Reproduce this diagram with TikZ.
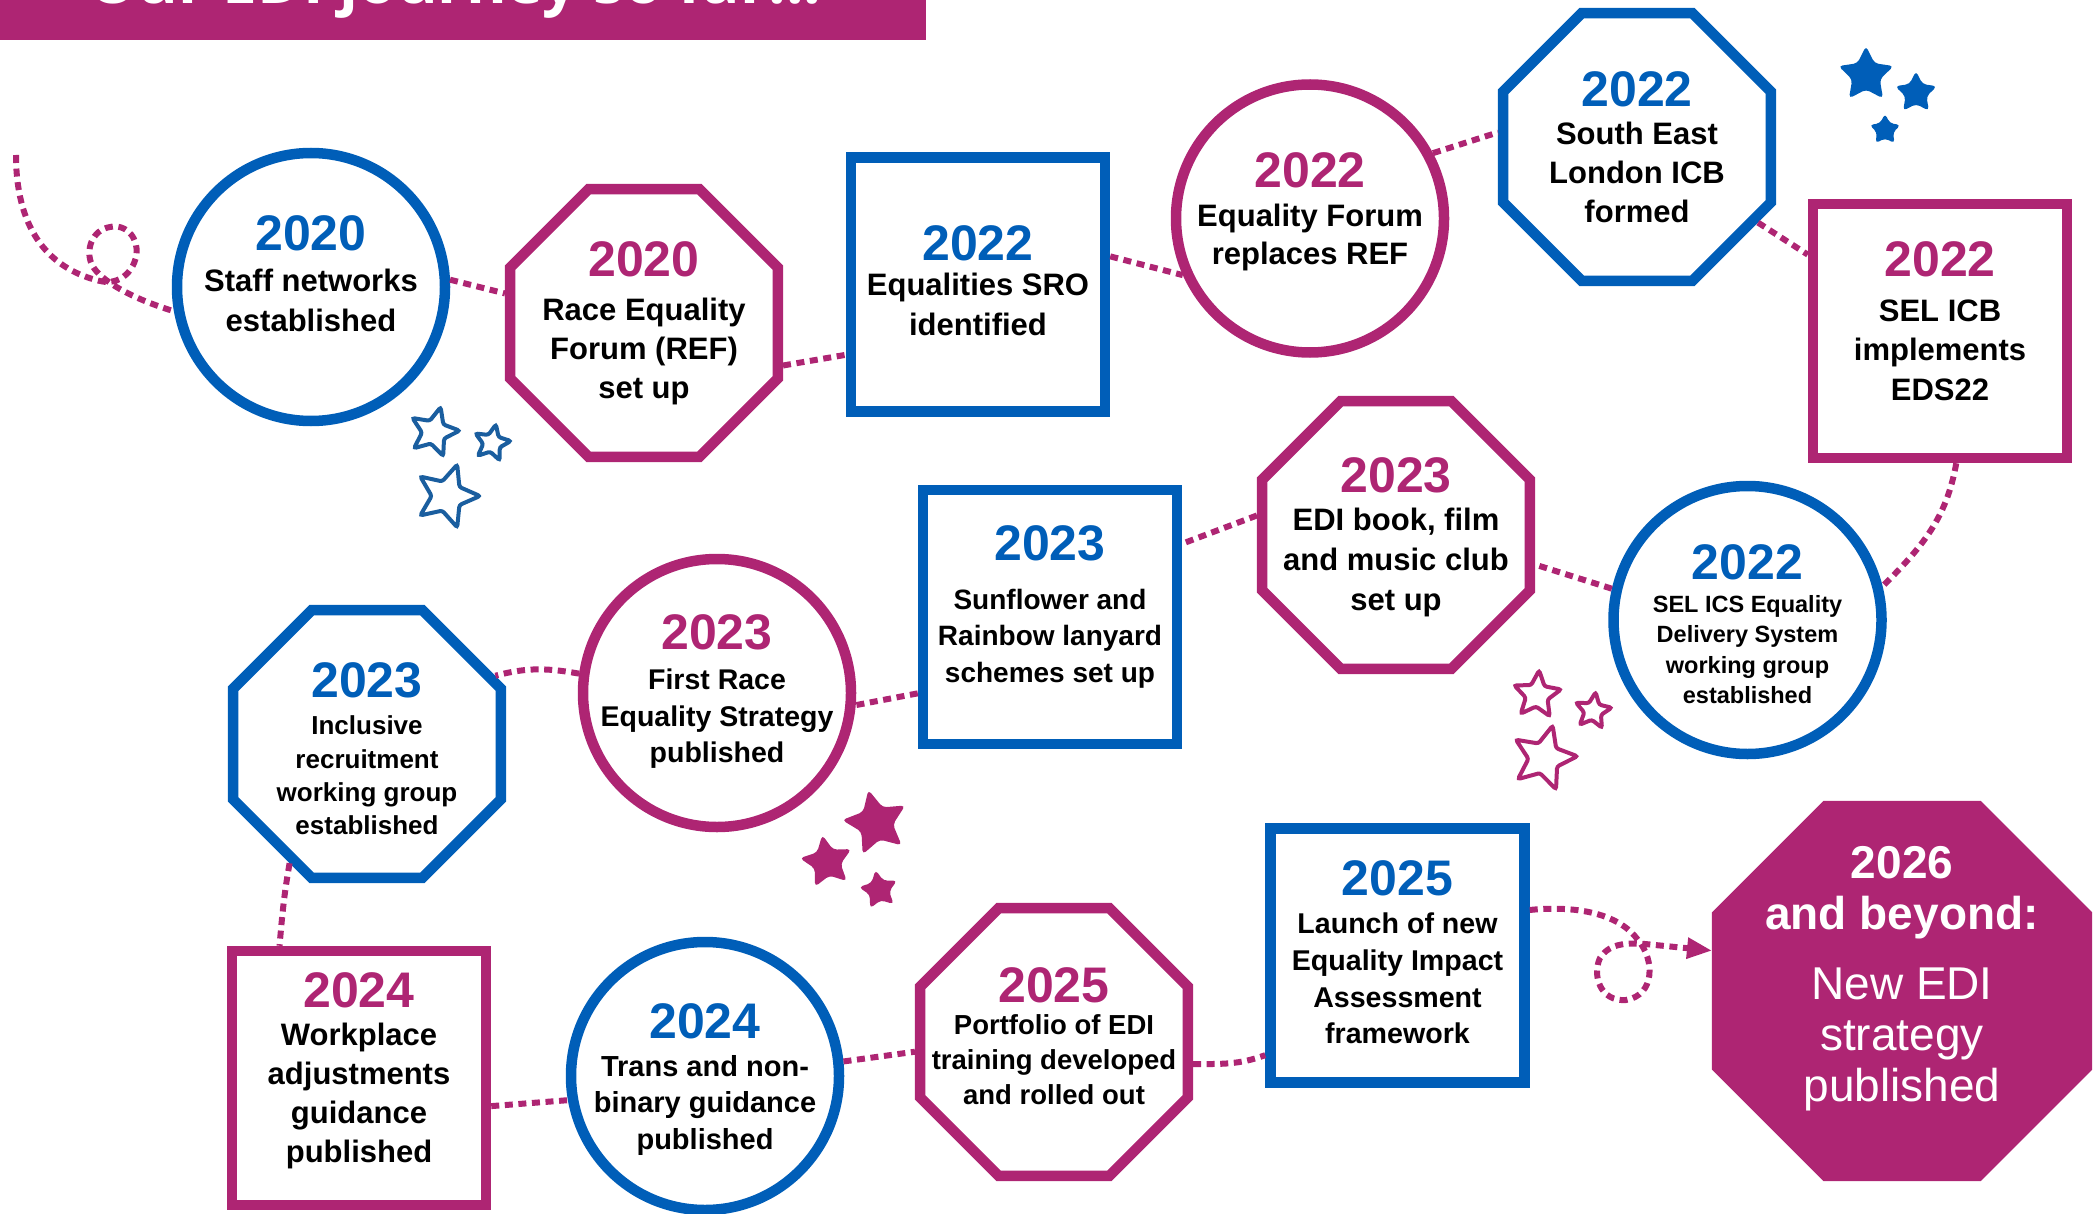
\documentclass[tikz,border=0pt]{standalone}
\usepackage{fontspec}
\setmainfont{Liberation Sans}
\newfontfamily\headfont{Open Sans}
\usetikzlibrary{shapes.geometric,arrows.meta}
\definecolor{nhsblue}{HTML}{005EB8}
\definecolor{nhspink}{HTML}{AE2573}
\definecolor{starblue}{HTML}{1A5E9F}
\newcommand{\yr}[2]{{\fontsize{25}{20}\selectfont\color{#1}#2}}
\begin{document}
\begin{tikzpicture}[x=0.5pt,y=-0.5pt]
\tikzstyle{every node}=[font=\bfseries]
\tikzstyle{ring}=[circle, draw, line width=5.25pt, minimum size=134pt, inner sep=0pt]
\tikzstyle{octa}=[regular polygon, regular polygon sides=8, draw, line width=5.25pt, minimum size=144.8pt, inner sep=0pt]
\tikzstyle{box}=[rectangle, draw, line width=5.25pt, minimum size=127pt, inner sep=0pt]
\tikzstyle{txt}=[align=center, text=black, inner sep=0pt]
\tikzstyle{trail}=[nhspink, line width=3pt, dash pattern=on 4pt off 2.8pt]
\tikzstyle{hollowstar}=[star, star points=5, star point ratio=2.15, draw, line width=2pt, rounded corners=1.2pt, inner sep=0pt]
\tikzstyle{solidstar}=[star, star points=5, star point ratio=2.0, fill, rounded corners=2pt, inner sep=0pt]
	\useasboundingbox (0,0) rectangle (2098,1214);
	\fill[nhspink] (0,0) rectangle (926,40);
	\node[anchor=base west, text=white, inner sep=0pt, font=\headfont\bfseries\fontsize{31}{36}\selectfont] (title) at (88,4) {Our EDI journey so far...};

	\node[ring, nhsblue] (staff) at (311,287) {};
	\node[txt, font=\bfseries\fontsize{15.5}{20}\selectfont, yshift=6.5pt] (stafftext) at (staff) {\yr{nhsblue}{2020}\\[0.5pt]Staff networks\\established};
	\node[octa, nhspink] (race) at (644,323) {};
	\node[txt, font=\bfseries\fontsize{15.5}{19.5}\selectfont] (racetext) at (race) {\yr{nhspink}{2020}\\[2.5pt]Race Equality\\Forum (REF)\\set up};
	\node[box, nhsblue] (sro) at (978,284.5) {};
	\node[txt, font=\bfseries\fontsize{15.5}{20}\selectfont, yshift=1.75pt] (srotext) at (sro) {\yr{nhsblue}{2022}\\[-2.5pt]Equalities SRO\\identified};
	\node[ring, nhspink] (forum) at (1310,218.5) {};
	\node[txt, font=\bfseries\fontsize{15.5}{19}\selectfont, yshift=3.25pt] (forumtext) at (forum) {\yr{nhspink}{2022}\\[0.5pt]Equality Forum\\replaces REF};
	\node[octa, nhsblue] (icb) at (1637,147) {};
	\node[txt, font=\bfseries\fontsize{15.5}{19.5}\selectfont] (icbtext) at (icb) {\yr{nhsblue}{2022}\\[-0.5pt]South East\\London ICB\\formed};
	\node[box, nhspink] (eds) at (1940,331) {};
	\node[txt, font=\bfseries\fontsize{15.5}{19.75}\selectfont, yshift=5pt] (edstext) at (eds) {\yr{nhspink}{2022}\\[2.75pt]SEL ICB\\implements\\EDS22};

	\node[ring, nhsblue] (edsgroup) at (1747.5,620) {};
	\node[txt, font=\bfseries\fontsize{11.75}{15.25}\selectfont, yshift=-2pt] (edsgrouptext) at (edsgroup) {\yr{nhsblue}{2022}\\[1.25pt]SEL ICS Equality\\Delivery System\\working group\\established};
	\node[octa, nhspink] (club) at (1396,535) {};
	\node[txt, font=\bfseries\fontsize{15.5}{20}\selectfont, yshift=-1pt] (clubtext) at (club) {\yr{nhspink}{2023}\\[-1pt]EDI book, film\\and music club\\set up};
	\node[box, nhsblue] (lanyard) at (1050,617) {};
	\node[txt, font=\bfseries\fontsize{14}{18.4}\selectfont, yshift=5pt] (lanyardtext) at (lanyard) {\yr{nhsblue}{2023}\\[6pt]Sunflower and\\Rainbow lanyard\\schemes set up};
	\node[ring, nhspink] (strategy) at (717,693) {};
	\node[txt, font=\bfseries\fontsize{14.25}{18.25}\selectfont, yshift=0.75pt] (strategytext) at (strategy) {\yr{nhspink}{2023}\\[1.75pt]First Race\\Equality Strategy\\published};
	\node[octa, nhsblue] (recruit) at (367,744) {};
	\node[txt, font=\bfseries\fontsize{13}{16.7}\selectfont, yshift=-2.5pt] (recruittext) at (recruit) {\yr{nhsblue}{2023}\\[1.8pt]Inclusive\\recruitment\\working group\\established};

	\node[box, nhspink] (adjust) at (359,1078) {};
	\node[txt, font=\bfseries\fontsize{15.5}{19.6}\selectfont, yshift=3.5pt] (adjusttext) at (adjust) {\yr{nhspink}{2024}\\[-1pt]Workplace\\adjustments\\guidance\\published};
	\node[ring, nhsblue] (trans) at (705,1076) {};
	\node[txt, font=\bfseries\fontsize{14.5}{18.4}\selectfont, yshift=-1.75pt] (transtext) at (trans) {\yr{nhsblue}{2024}\\[0.6pt]Trans and non-\\binary guidance\\published};
	\node[octa, nhspink] (portfolio) at (1054,1042) {};
	\node[txt, font=\bfseries\fontsize{13.75}{17.5}\selectfont, yshift=3pt] (portfoliotext) at (portfolio) {\yr{nhspink}{2025}\\[-1.5pt]Portfolio of EDI\\training developed\\and rolled out};
	\node[box, nhsblue] (eia) at (1397.5,955.5) {};
	\node[txt, font=\bfseries\fontsize{14.3}{18.3}\selectfont, yshift=1.5pt] (eiatext) at (eia) {\yr{nhsblue}{2025}\\[0.7pt]Launch of new\\Equality Impact\\Assessment\\framework};
	\node[octa, draw=none, fill=nhspink, outer sep=0pt, minimum size=205.7pt] (future) at (1902,991) {};
	\node[txt, text=white, font=\bfseries\fontsize{23}{25.5}\selectfont, yshift=6pt] (futuretext) at (future) {2026\\and beyond:\\[9.5pt]{\mdseries New EDI}\\{\mdseries strategy}\\{\mdseries published}};

	\node[hollowstar, starblue, minimum size=25.7pt, rotate=-15] (bstar1) at (434,432) {};
	\node[hollowstar, starblue, minimum size=19pt, rotate=-12] (bstar2) at (492,443) {};
	\node[hollowstar, starblue, minimum size=33pt, rotate=-18] (bstar3) at (447,496) {};
	\node[solidstar, nhsblue, minimum size=29pt] (bstar4) at (1866,75) {};
	\node[solidstar, nhsblue, minimum size=22pt] (bstar5) at (1916,93) {};
	\node[solidstar, nhsblue, minimum size=16.5pt] (bstar6) at (1885,130) {};
	\node[solidstar, nhspink, minimum size=34pt, rotate=13] (pstar1) at (876,823) {};
	\node[solidstar, nhspink, minimum size=27.5pt, rotate=10] (pstar2) at (827,862) {};
	\node[solidstar, nhspink, minimum size=20.5pt, rotate=10] (pstar3) at (879,890) {};
	\node[hollowstar, nhspink, minimum size=24.7pt, rotate=-5] (pstar4) at (1537,695) {};
	\node[hollowstar, nhspink, minimum size=19pt, rotate=-8] (pstar5) at (1593,711) {};
	\node[hollowstar, nhspink, minimum size=33.5pt, rotate=-15] (pstar6) at (1544,758) {};

	\coordinate (tail) at (16,155);
	\draw[trail] (tail) .. controls (16,225) and (45,268) .. (100,281) .. controls (125,287) and (140,262) .. (136,245) .. controls (132,228) and (118,225) .. (110,227) .. controls (92,230) and (85,250) .. (92,265) .. controls (100,280) and (130,298) .. (staff.190);
	\draw[trail] (staff.3) -- (race.168);
	\draw[trail] (race.-17) -- (sro.208);
	\draw[trail] (sro.12) -- (forum.204);
	\draw[trail] (forum.28) -- (icb.174);
	\draw[trail] (icb.-32) -- (eds.150);
	\draw[trail] (eds.-83) to[out=-100,in=45] (edsgroup.14);
	\draw[trail] (edsgroup.167) -- (club.-12);
	\draw[trail] (club.172) -- (lanyard.29);
	\draw[trail] (lanyard.210) -- (strategy.-5);
	\draw[trail] (strategy.172) to[out=170,in=15] (recruit.28);
	\draw[trail] (recruit.237) to[out=-100,in=85] (adjust.121);
	\draw[trail] (adjust.-12) -- (trans.190);
	\draw[trail] (trans.6) -- (portfolio.184);
	\draw[trail] (portfolio.-9) to[out=0,in=200] (eia.217);
	\draw[trail, -{Triangle[length=12.5pt,width=10pt]}] (eia.19) .. controls (1580,905) and (1620,915) .. (1638,940) .. controls (1655,960) and (1655,995) .. (1626,1000) .. controls (1600,1002) and (1592,975) .. (1600,958) .. controls (1610,942) and (1630,943) .. (1645,944) -- (future.168);
\end{tikzpicture}
\end{document}
